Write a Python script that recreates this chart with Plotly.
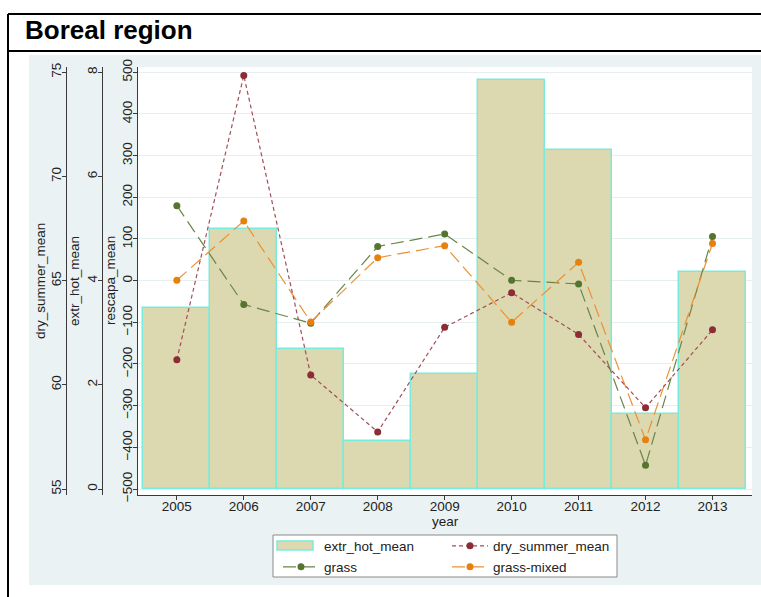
import plotly.graph_objects as go

years = [2005, 2006, 2007, 2008, 2009, 2010, 2011, 2012, 2013]
extr_hot_mean = [3.47, 5.00, 2.69, 0.93, 2.20, 7.85, 6.51, 1.44, 4.16]
dry_summer_mean = [61.20, 74.85, 60.47, 57.74, 62.76, 64.42, 62.42, 58.90, 62.64]
grass = [180, -57, -102, 82, 112, 1, -8, -443, 106]
grass_mixed = [1, 143, -99, 55, 84, -100, 44, -382, 89]

rescapa_ticks = [-500, -400, -300, -200, -100, 0, 100, 200, 300, 400, 500]
extr_ticks = [0, 2, 4, 6, 8]
dry_ticks = [55, 60, 65, 70, 75]

W, H = 761, 597
FONT = "Liberation Sans, Arial, sans-serif"
TXT = "#222222"
AX = "#3a3a3a"
BG = "#EAF2F3"
BAR_FILL = "#DCD8B0"
BAR_EDGE = "#78EBDC"

def px(x):
    return x / W

def py(y):
    return 1 - y / H

fig = go.Figure()

fig.add_trace(go.Bar(
    x=years, y=extr_hot_mean, width=1, name="extr_hot_mean", yaxis="y",
    marker=dict(color=BAR_FILL, line=dict(color=BAR_EDGE, width=1.5)),
    showlegend=False,
))
# legend entry for the bars (icon drawn as a wide box below)
fig.add_trace(go.Scatter(
    x=[None], y=[None], name="extr_hot_mean", yaxis="y", mode="lines",
    line=dict(color="rgba(0,0,0,0)", width=0), legend="legend", hoverinfo="skip",
))
fig.add_trace(go.Scatter(
    x=years, y=dry_summer_mean, name="dry_summer_mean", yaxis="y3", mode="lines+markers",
    line=dict(color="#A24E58", width=1.2, dash="4px,3px"),
    marker=dict(color="#8E2C36", size=7), legend="legend",
))
fig.add_trace(go.Scatter(
    x=years, y=grass, name="grass", yaxis="y2", mode="lines+markers",
    line=dict(color="#68854A", width=1.2, dash="13px,6px"),
    marker=dict(color="#55752F", size=7), legend="legend2",
))
fig.add_trace(go.Scatter(
    x=years, y=grass_mixed, name="grass-mixed", yaxis="y2", mode="lines+markers",
    line=dict(color="#EC9035", width=1.2, dash="13px,6px"),
    marker=dict(color="#E8800F", size=7), legend="legend2",
))

tickfont = dict(family=FONT, size=13.5, color=TXT)
titlefont = dict(family=FONT, size=13.5, color=TXT)
ydom = [py(495), py(67)]

common_y = dict(
    showline=True, linecolor=AX, linewidth=1, ticks="outside", ticklen=4,
    tickcolor=AX, tickangle=-90, tickfont=tickfont, zeroline=False,
    automargin=False, ticklabelstandoff=-4,
)

shapes = [
    dict(type="rect", xref="paper", yref="paper", x0=0, x1=1, y0=py(55), y1=1,
         fillcolor="white", line=dict(width=0), layer="above"),
    dict(type="rect", xref="paper", yref="paper", x0=0, x1=px(29), y0=0, y1=1,
         fillcolor="white", line=dict(width=0), layer="above"),
    dict(type="rect", xref="paper", yref="paper", x0=0, x1=1, y0=0, y1=py(585),
         fillcolor="white", line=dict(width=0), layer="above"),
    dict(type="line", xref="paper", yref="paper", x0=px(8), x1=1, y0=py(14), y1=py(14),
         line=dict(color="black", width=2), layer="above"),
    dict(type="line", xref="paper", yref="paper", x0=px(8), x1=1, y0=py(51), y1=py(51),
         line=dict(color="black", width=2), layer="above"),
    dict(type="line", xref="paper", yref="paper", x0=px(8), x1=px(8), y0=0, y1=py(14),
         line=dict(color="black", width=2), layer="above"),
    dict(type="rect", xref="paper", yref="paper", x0=px(273), x1=px(617), y0=py(577), y1=py(535),
         fillcolor="white", line=dict(color="#8a8a8a", width=1), layer="above"),
    # legend key for the bars
    dict(type="rect", xref="paper", yref="paper", x0=px(277), x1=px(313), y0=py(550), y1=py(541),
         fillcolor=BAR_FILL, line=dict(color=BAR_EDGE, width=1.5), layer="above"),
]

def vtitle(text, x, y=281):
    return dict(text=text, xref="paper", yref="paper", x=px(x), y=py(y),
                xanchor="center", yanchor="middle", textangle=-90, showarrow=False,
                font=titlefont)

fig.update_layout(
    width=W, height=H,
    margin=dict(l=0, r=0, t=0, b=0),
    paper_bgcolor=BG, plot_bgcolor="white",
    font=dict(family=FONT, color=TXT),
    bargap=0,
    xaxis=dict(
        domain=[px(138), px(752)], range=[2004.42, 2013.59],
        tickvals=years, ticktext=[str(y) for y in years],
        showline=True, linecolor=AX, linewidth=1.2, ticks="outside", ticklen=4, tickcolor=AX,
        tickfont=tickfont, showgrid=False, zeroline=False, automargin=False,
        ticklabelstandoff=-5,
    ),
    yaxis=dict(
        range=[-0.115, 8.102], tickvals=extr_ticks, anchor="free",
        position=px(102), side="left", showgrid=False, domain=ydom,
        **common_y,
    ),
    yaxis2=dict(
        range=[-514.4, 512.7], tickvals=rescapa_ticks, overlaying="y", anchor="x",
        side="left", showgrid=True, gridcolor="#E6EEF0", gridwidth=1,
        **common_y,
    ),
    yaxis3=dict(
        range=[54.712, 75.254], tickvals=dry_ticks, overlaying="y", anchor="free",
        position=px(66), side="left", showgrid=False,
        **common_y,
    ),
    legend=dict(
        orientation="h", x=px(278), xanchor="left", y=py(546), yanchor="middle",
        bgcolor="rgba(0,0,0,0)", borderwidth=0, entrywidth=118, entrywidthmode="pixels",
        font=dict(family=FONT, size=13.5, color=TXT), itemwidth=36,
    ),
    legend2=dict(
        orientation="h", x=px(278), xanchor="left", y=py(567), yanchor="middle",
        bgcolor="rgba(0,0,0,0)", borderwidth=0, entrywidth=118, entrywidthmode="pixels",
        font=dict(family=FONT, size=13.5, color=TXT), itemwidth=36,
    ),
    shapes=shapes,
    annotations=[
        dict(text="<b>Boreal region</b>", xref="paper", yref="paper", x=px(23), y=py(30),
             xanchor="left", yanchor="middle", showarrow=False,
             font=dict(family=FONT, size=26, color="black")),
        vtitle("dry_summer_mean", 40),
        vtitle("extr_hot_mean", 74),
        vtitle("rescapa_mean", 110),
        dict(text="year", xref="paper", yref="paper", x=px(445), y=py(521),
             xanchor="center", yanchor="middle", showarrow=False, font=titlefont),
    ],
)

fig.write_html("out.html", config={"displayModeBar": False},
               post_script="document.body.style.margin='0';")
